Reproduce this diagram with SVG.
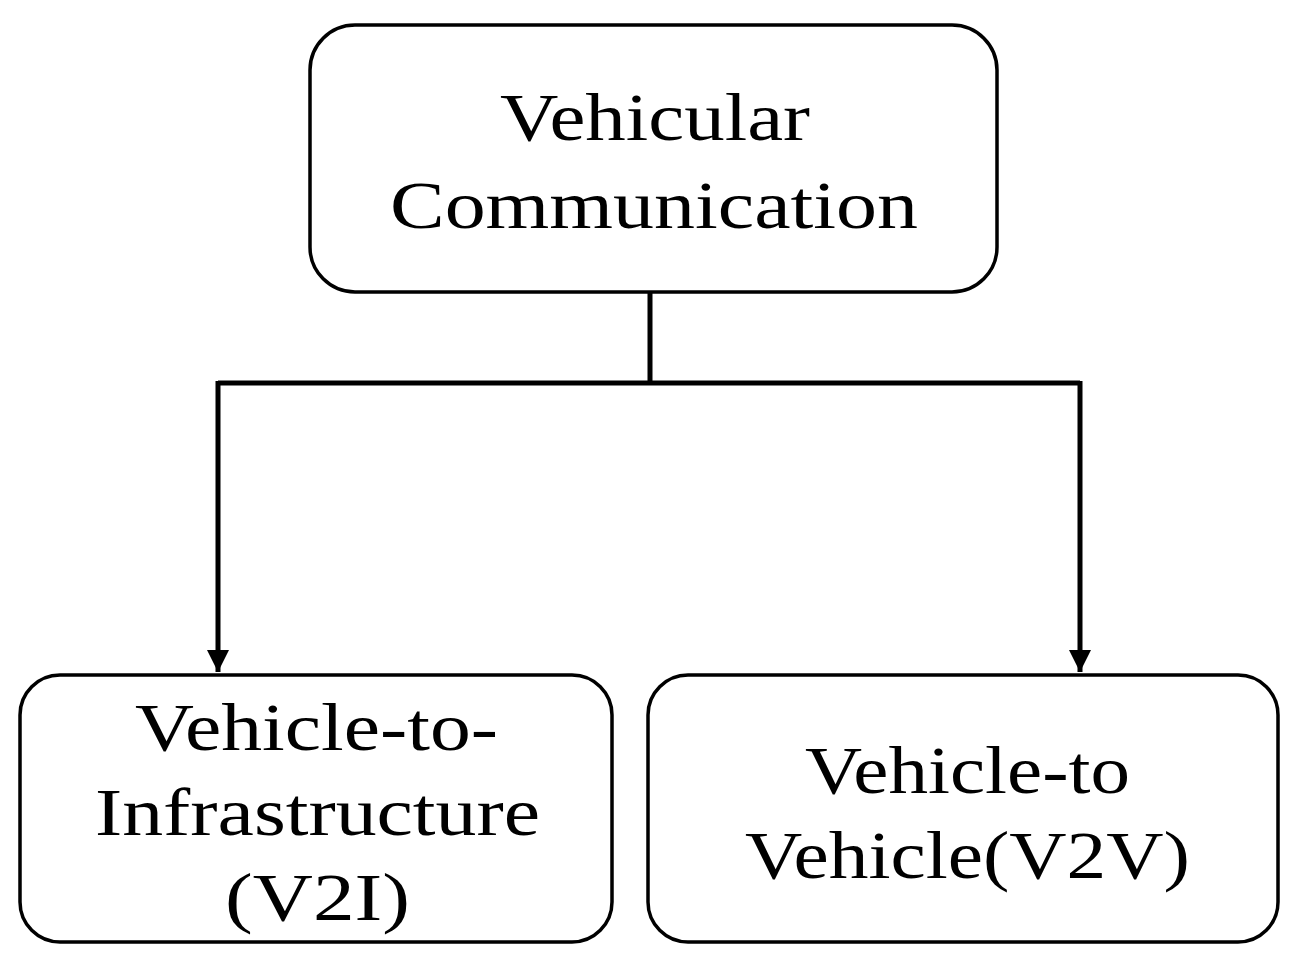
<svg xmlns="http://www.w3.org/2000/svg" width="1294" height="961" viewBox="0 0 1294 961">
<style>
.box{fill:#fff;stroke:#000;stroke-width:3.5}
.t{font-family:"Liberation Serif","Times New Roman",serif;font-size:68px;fill:#000}
.c{fill:none;stroke:#000;stroke-width:5}
</style>
<defs><marker id="a" markerWidth="8" markerHeight="8" refX="4" refY="7" orient="auto" markerUnits="userSpaceOnUse" viewBox="0 0 8 8"><path d="M0,0 L8,0 L4,8 Z" fill="#000"/></marker>
<marker id="ah" viewBox="0 0 10 10" refX="5" refY="10" markerWidth="22" markerHeight="24" markerUnits="userSpaceOnUse" orient="0"><path d="M0,0 L10,0 L5,10 Z" fill="#000"/></marker></defs>
<rect width="1294" height="961" fill="#fff"/>
<g id="connectors">
<path class="c" d="M650,292 V383 M218,383 H1080"/>
<path class="c" d="M218,381 V672" marker-end="url(#ah)"/>
<path class="c" d="M1080,381 V672" marker-end="url(#ah)"/>
</g>
<g id="root"><rect class="box" x="310" y="25" width="687" height="267" rx="45"/>
<text class="t" x="500" y="140" textLength="310" lengthAdjust="spacingAndGlyphs">Vehicular</text>
<text class="t" x="390" y="228" textLength="528" lengthAdjust="spacingAndGlyphs">Communication</text></g>
<g id="v2i"><rect class="box" x="20" y="675" width="592" height="267" rx="40"/>
<text class="t" x="135" y="750" textLength="363" lengthAdjust="spacingAndGlyphs">Vehicle-to-</text>
<text class="t" x="95" y="835" textLength="445" lengthAdjust="spacingAndGlyphs">Infrastructure</text>
<text class="t" x="225" y="920" textLength="185" lengthAdjust="spacingAndGlyphs">(V2I)</text></g>
<g id="v2v"><rect class="box" x="648" y="675" width="630" height="267" rx="40"/>
<text class="t" x="805" y="793" textLength="325" lengthAdjust="spacingAndGlyphs">Vehicle-to</text>
<text class="t" x="745" y="878" textLength="445" lengthAdjust="spacingAndGlyphs">Vehicle(V2V)</text></g>
</svg>
